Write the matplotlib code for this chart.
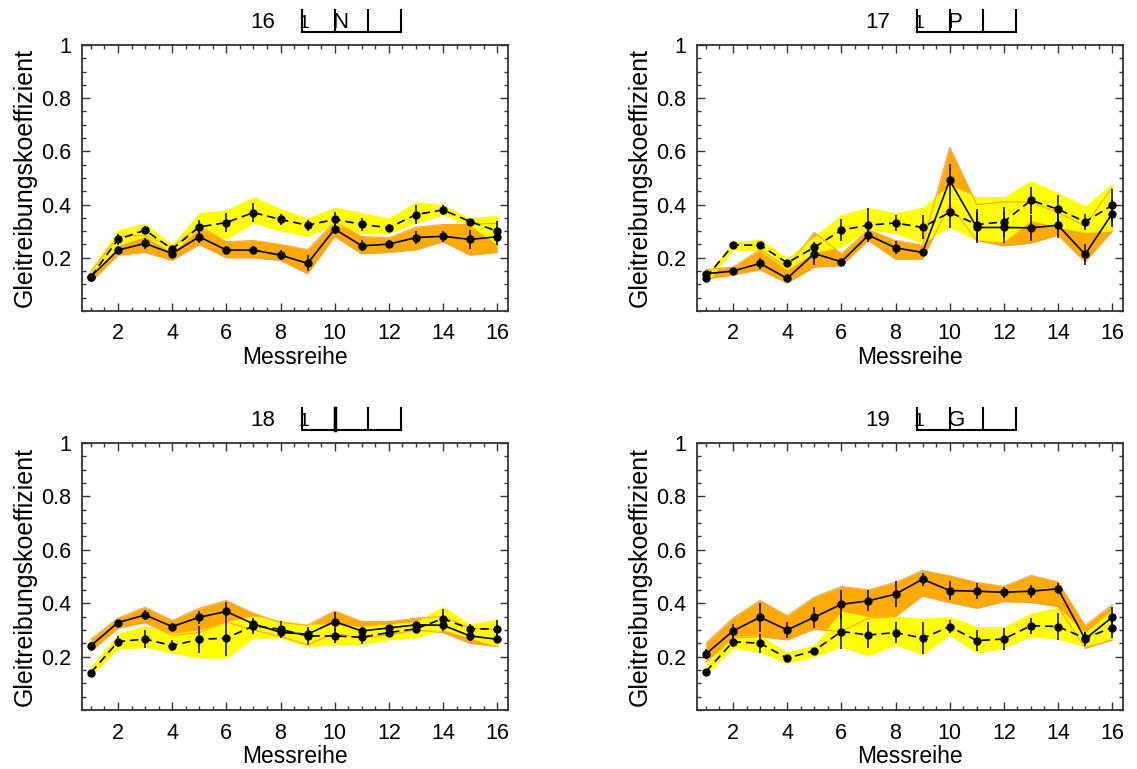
import matplotlib
matplotlib.use("Agg")
import matplotlib.pyplot as plt
from matplotlib.ticker import MultipleLocator

plt.rcParams["font.family"] = ["Liberation Sans", "DejaVu Sans"]

messreihe = list(range(1, 17))

# --- 16 N ---
n_solid = [0.129, 0.229, 0.254, 0.216, 0.279, 0.229, 0.229, 0.21, 0.179, 0.308, 0.245, 0.251, 0.276, 0.281, 0.269, 0.279]
n_solid_err = [0.01, 0.015, 0.02, 0.015, 0.025, 0.015, 0.015, 0.02, 0.03, 0.02, 0.02, 0.015, 0.025, 0.02, 0.035, 0.03]
n_orange_hi = [0.147, 0.28, 0.285, 0.24, 0.32, 0.26, 0.265, 0.25, 0.23, 0.335, 0.28, 0.275, 0.315, 0.325, 0.325, 0.33]
n_orange_lo = [0.11, 0.21, 0.22, 0.19, 0.25, 0.20, 0.20, 0.19, 0.14, 0.28, 0.215, 0.22, 0.23, 0.26, 0.21, 0.22]
n_dashed = [0.129, 0.269, 0.304, 0.2325, 0.316, 0.3325, 0.37, 0.344, 0.3225, 0.344, 0.326, 0.3125, 0.3625, 0.38, 0.336, 0.30]
n_dashed_err = [0.01, 0.02, 0.015, 0.01, 0.025, 0.035, 0.035, 0.02, 0.02, 0.03, 0.025, 0.015, 0.035, 0.02, 0.01, 0.04]
n_yellow_hi = [0.16, 0.306, 0.33, 0.25, 0.37, 0.38, 0.43, 0.385, 0.35, 0.39, 0.37, 0.35, 0.41, 0.40, 0.35, 0.36]
n_yellow_lo = [0.12, 0.245, 0.28, 0.22, 0.31, 0.27, 0.33, 0.30, 0.28, 0.325, 0.29, 0.29, 0.33, 0.36, 0.32, 0.25]

# --- 17 P ---
p_solid = [0.14, 0.15, 0.179, 0.1225, 0.216, 0.185, 0.285, 0.2375, 0.22, 0.491, 0.314, 0.314, 0.3125, 0.3225, 0.2125, 0.366]
p_solid_err = [0.01, 0.01, 0.02, 0.015, 0.045, 0.01, 0.02, 0.025, 0.01, 0.06, 0.06, 0.06, 0.05, 0.05, 0.04, 0.05]
p_orange_hi = [0.155, 0.165, 0.23, 0.165, 0.295, 0.215, 0.305, 0.265, 0.2475, 0.615, 0.40, 0.41, 0.41, 0.37, 0.32, 0.465]
p_orange_lo = [0.12, 0.135, 0.155, 0.105, 0.165, 0.17, 0.265, 0.195, 0.195, 0.40, 0.265, 0.245, 0.255, 0.285, 0.185, 0.30]
p_dashed = [0.125, 0.2475, 0.2475, 0.181, 0.239, 0.304, 0.3225, 0.331, 0.314, 0.371, 0.325, 0.335, 0.416, 0.3825, 0.335, 0.3975]
p_dashed_err = [0.01, 0.01, 0.01, 0.01, 0.02, 0.04, 0.065, 0.03, 0.045, 0.06, 0.06, 0.055, 0.05, 0.055, 0.03, 0.06]
p_yellow_hi = [0.135, 0.26, 0.27, 0.20, 0.28, 0.364, 0.39, 0.37, 0.39, 0.475, 0.43, 0.43, 0.49, 0.445, 0.395, 0.48]
p_yellow_lo = [0.10, 0.23, 0.225, 0.155, 0.22, 0.24, 0.305, 0.29, 0.255, 0.315, 0.265, 0.26, 0.34, 0.315, 0.295, 0.30]

# --- 18 I ---
i_solid = [0.241, 0.3275, 0.356, 0.3125, 0.3475, 0.369, 0.3225, 0.291, 0.284, 0.331, 0.296, 0.3075, 0.319, 0.3175, 0.2775, 0.265]
i_solid_err = [0.015, 0.01, 0.02, 0.015, 0.025, 0.035, 0.02, 0.02, 0.02, 0.035, 0.015, 0.01, 0.01, 0.02, 0.02, 0.015]
i_orange_hi = [0.265, 0.344, 0.385, 0.335, 0.381, 0.41, 0.3625, 0.3275, 0.3175, 0.371, 0.331, 0.331, 0.344, 0.35, 0.306, 0.30]
i_orange_lo = [0.22, 0.306, 0.3275, 0.28, 0.29, 0.33, 0.30, 0.275, 0.244, 0.2875, 0.269, 0.281, 0.30, 0.29, 0.25, 0.2375]
i_dashed = [0.14, 0.256, 0.266, 0.241, 0.265, 0.269, 0.315, 0.3025, 0.2775, 0.2775, 0.2725, 0.29, 0.304, 0.3425, 0.304, 0.304]
i_dashed_err = [0.005, 0.02, 0.035, 0.02, 0.05, 0.065, 0.03, 0.03, 0.035, 0.025, 0.025, 0.015, 0.015, 0.035, 0.02, 0.035]
i_yellow_hi = [0.1625, 0.2875, 0.316, 0.2875, 0.30, 0.331, 0.3525, 0.3375, 0.321, 0.3225, 0.3125, 0.3225, 0.331, 0.3875, 0.3225, 0.341]
i_yellow_lo = [0.1275, 0.2275, 0.234, 0.2125, 0.194, 0.194, 0.269, 0.269, 0.2375, 0.244, 0.244, 0.2625, 0.269, 0.30, 0.269, 0.2375]

# --- 19 G ---
g_solid = [0.21, 0.296, 0.3475, 0.30, 0.3475, 0.396, 0.409, 0.434, 0.49, 0.4475, 0.445, 0.441, 0.445, 0.454, 0.266, 0.3475]
g_solid_err = [0.02, 0.025, 0.055, 0.03, 0.04, 0.055, 0.04, 0.05, 0.025, 0.035, 0.03, 0.02, 0.025, 0.02, 0.025, 0.04]
g_orange_hi = [0.25, 0.344, 0.41, 0.3525, 0.4225, 0.4625, 0.45, 0.4775, 0.5225, 0.5025, 0.4775, 0.4625, 0.504, 0.48, 0.316, 0.394]
g_orange_lo = [0.18, 0.27, 0.275, 0.2625, 0.3025, 0.294, 0.344, 0.35, 0.4275, 0.4025, 0.381, 0.406, 0.4025, 0.3875, 0.231, 0.2625]
g_dashed = [0.144, 0.256, 0.25, 0.194, 0.2225, 0.294, 0.281, 0.29, 0.269, 0.3125, 0.26, 0.266, 0.316, 0.3125, 0.269, 0.309]
g_dashed_err = [0.005, 0.02, 0.035, 0.01, 0.01, 0.065, 0.05, 0.04, 0.06, 0.025, 0.04, 0.04, 0.03, 0.05, 0.025, 0.04]
g_yellow_hi = [0.175, 0.275, 0.281, 0.216, 0.244, 0.371, 0.35, 0.3525, 0.344, 0.35, 0.3125, 0.3125, 0.3625, 0.385, 0.29, 0.375]
g_yellow_lo = [0.131, 0.231, 0.215, 0.175, 0.20, 0.235, 0.2025, 0.244, 0.206, 0.281, 0.2125, 0.231, 0.275, 0.265, 0.2375, 0.265]

panel_numbers = ["16", "17", "18", "19"]
panel_letters = ["N", "P", "I", "G"]

ORANGE = "#ffaa00"
ORANGE_EDGE = "#ffa030"
YELLOW = "#ffff00"


def draw_panel(ax, number, letter, solid, solid_err, o_lo, o_hi, dashed, dashed_err, y_lo, y_hi):
    ax.fill_between(messreihe, o_lo, o_hi, color=ORANGE, lw=0, zorder=1)
    ax.fill_between(messreihe, y_lo, y_hi, color=YELLOW, lw=0, zorder=2)
    ax.plot(messreihe, o_lo, color=ORANGE_EDGE, lw=0.8, zorder=3)
    ax.plot(messreihe, o_hi, color=ORANGE_EDGE, lw=0.8, zorder=3)

    ax.errorbar(messreihe, solid, yerr=solid_err, fmt="-o", color="black", lw=1.2,
                elinewidth=1.1, ms=5, capsize=0, zorder=5)
    ax.errorbar(messreihe, dashed, yerr=dashed_err, fmt="o", color="black",
                elinewidth=1.1, ms=5, capsize=0, zorder=5)
    ax.plot(messreihe, dashed, color="black", lw=1.2, ls=(0, (5, 3)), zorder=5)

    ax.set_xlim(0.67, 16.4)
    ax.set_ylim(0, 1)
    ax.set_xticks(range(2, 17, 2))
    ax.set_yticks([0.2, 0.4, 0.6, 0.8, 1.0])
    ax.set_yticklabels(["0.2", "0.4", "0.6", "0.8", "1"])
    ax.xaxis.set_minor_locator(MultipleLocator(0.5))
    ax.yaxis.set_minor_locator(MultipleLocator(0.05))
    ax.tick_params(which="both", direction="in", top=True, right=True,
                   color="#333333", width=1.0, labelsize=15.5)
    ax.tick_params(which="major", length=6)
    ax.tick_params(axis="x", which="major", pad=9)
    ax.tick_params(axis="y", which="major", pad=8)
    ax.tick_params(which="minor", length=3)
    for sp in ax.spines.values():
        sp.set_color("#333333")
        sp.set_linewidth(1.3)
    ax.set_xlabel("Messreihe", fontsize=16.5, labelpad=1)
    ax.set_ylabel("Gleitreibungskoeffizient", fontsize=18, labelpad=3)

    # panel heading: number plus bracket with marker letter
    tr = ax.transAxes
    ax.text(0.425, 1.085, number, transform=tr, fontsize=16, ha="center", va="center")
    xs = [0.516, 0.594, 0.671, 0.749]
    ax.plot([xs[0], xs[-1]], [1.05, 1.05], transform=tr, color="black", lw=1.5, clip_on=False)
    for x in xs:
        ax.plot([x, x], [1.05, 1.13], transform=tr, color="black", lw=1.5, clip_on=False)
    ax.text(xs[0] + 0.006, 1.05, "1", transform=tr, fontsize=14, ha="center", va="bottom")
    if letter == "I":
        ax.plot([xs[1], xs[1]], [1.05, 1.13], transform=tr, color="black", lw=2.5, clip_on=False)
    else:
        ax.text(xs[1] - 0.006, 1.046, letter, transform=tr, fontsize=16, ha="left", va="bottom")


fig = plt.figure(figsize=(11.37, 7.69), dpi=100)
positions = [
    [0.0721, 0.5956, 0.3747, 0.3459],
    [0.6130, 0.5956, 0.3747, 0.3459],
    [0.0721, 0.0767, 0.3747, 0.3472],
    [0.6130, 0.0767, 0.3747, 0.3472],
]
data = [
    (n_solid, n_solid_err, n_orange_lo, n_orange_hi, n_dashed, n_dashed_err, n_yellow_lo, n_yellow_hi),
    (p_solid, p_solid_err, p_orange_lo, p_orange_hi, p_dashed, p_dashed_err, p_yellow_lo, p_yellow_hi),
    (i_solid, i_solid_err, i_orange_lo, i_orange_hi, i_dashed, i_dashed_err, i_yellow_lo, i_yellow_hi),
    (g_solid, g_solid_err, g_orange_lo, g_orange_hi, g_dashed, g_dashed_err, g_yellow_lo, g_yellow_hi),
]
for pos, num, let, d in zip(positions, panel_numbers, panel_letters, data):
    ax = fig.add_axes(pos)
    draw_panel(ax, num, let, *d)

fig.savefig("out.png", dpi=100)
